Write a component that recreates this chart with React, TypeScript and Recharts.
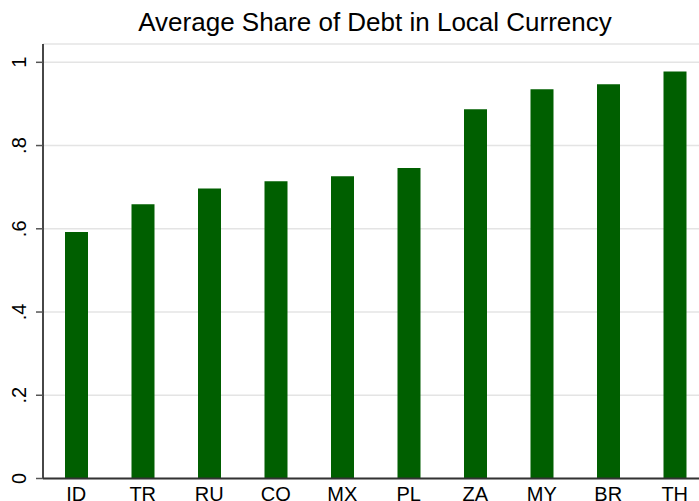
import { BarChart, Bar, XAxis, YAxis, CartesianGrid } from 'recharts';

const countries = ['ID', 'TR', 'RU', 'CO', 'MX', 'PL', 'ZA', 'MY', 'BR', 'TH'];
const shares = [0.592, 0.659, 0.697, 0.714, 0.726, 0.746, 0.887, 0.935, 0.947, 0.978];
const yTicks = [0, 0.2, 0.4, 0.6, 0.8, 1];

const FONT = '"Liberation Sans", Arial, sans-serif';
const BAR_COLOR = '#005f00';

const data = countries.map((c, i) => ({ country: c, share: shares[i] }));

const fmtTick = (v: number) => (v === 0 ? '0' : v === 1 ? '1' : String(v).replace(/^0/, ''));

const YTick = ({ y, payload }: any) => (
    <g transform={`translate(26, ${y}) rotate(-90)`}>
        <text x={0} y={0} textAnchor="middle" fontSize={20} fontFamily={FONT} fill="#000">
            {fmtTick(payload.value)}
        </text>
    </g>
);

const XTick = ({ x, y, payload }: any) => (
    <text x={x} y={y + 14} textAnchor="middle" fontSize={20} fontFamily={FONT} fill="#000">
        {payload.value}
    </text>
);

export default function App() {
    return (
        <div style={{ position: 'absolute', left: 0, top: 0, width: 699, height: 501, overflow: 'hidden', background: '#fff' }}>
            <div
                style={{
                    position: 'absolute',
                    left: 0,
                    top: 9,
                    width: 750,
                    textAlign: 'center',
                    fontFamily: FONT,
                    fontSize: 26,
                    lineHeight: '26px',
                    color: '#000',
                }}
            >
                Average Share of Debt in Local Currency
            </div>
            <BarChart
                width={710}
                height={501}
                data={data}
                margin={{ top: 44, right: 2, bottom: 0, left: 0 }}
                barCategoryGap={0}
            >
                <CartesianGrid vertical={false} stroke="#e4e4e4" strokeWidth={1.5} />
                <XAxis
                    dataKey="country"
                    height={22.5}
                    tickLine={false}
                    axisLine={{ stroke: '#333', strokeWidth: 1.8 }}
                    tick={<XTick />}
                    interval={0}
                />
                <XAxis
                    xAxisId="top"
                    orientation="top"
                    dataKey="country"
                    height={0}
                    tick={false}
                    tickLine={false}
                    axisLine={{ stroke: '#333', strokeWidth: 1.8 }}
                />
                <YAxis
                    width={43}
                    domain={[0, 1.044]}
                    ticks={yTicks}
                    tickSize={7}
                    tickLine={{ stroke: '#555', strokeWidth: 1.5 }}
                    axisLine={{ stroke: '#333', strokeWidth: 1.8 }}
                    tick={<YTick />}
                    allowDataOverflow
                />
                <Bar dataKey="share" fill={BAR_COLOR} barSize={23} isAnimationActive={false} />
            </BarChart>
        </div>
    );
}
